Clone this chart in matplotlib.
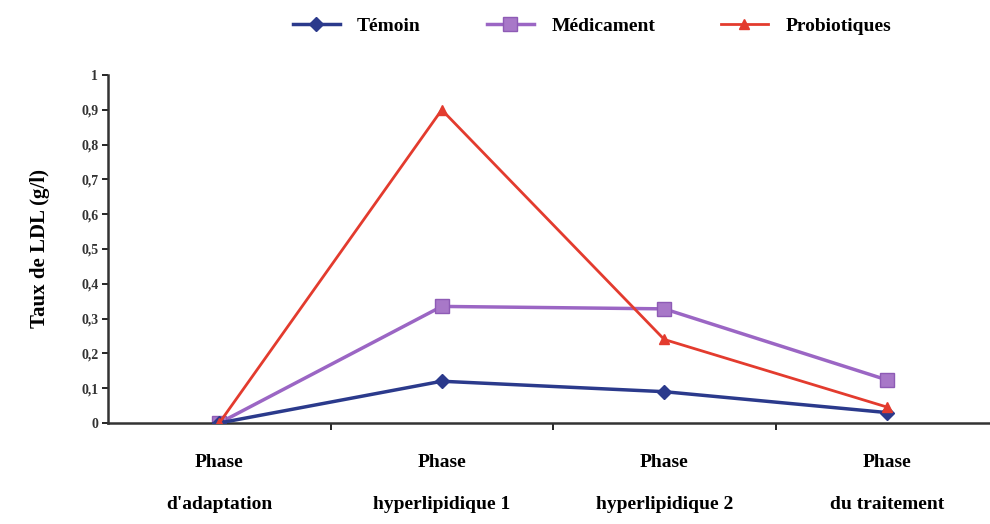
import matplotlib
matplotlib.use("Agg")
import matplotlib.pyplot as plt
import numpy as np

categories = ["Phase\nd'adaptation", "Phase\nhyperlipidique 1", "Phase\nhyperlipidique 2", "Phase\ndu traitement"]
temoin = [0.0, 0.12, 0.09, 0.03]
medicament = [0.0, 0.335, 0.328, 0.124]
probiotiques = [0.0, 0.90, 0.24, 0.046]
yticks = [0, 0.1, 0.2, 0.3, 0.4, 0.5, 0.6, 0.7, 0.8, 0.9, 1]
ytick_labels = ["0", "0,1", "0,2", "0,3", "0,4", "0,5", "0,6", "0,7", "0,8", "0,9", "1"]

plt.rcParams['font.family'] = ['Liberation Serif', 'DejaVu Serif']

fig = plt.figure(figsize=(9.9, 5.24), dpi=100)
ax = fig.add_axes([108/990, 101/524, 890/990, 348/524])
x = np.arange(len(categories))

ax.plot(x, temoin, color='#2B3A8C', lw=2.5, marker='D', ms=7, label='Témoin', zorder=3)
ax.plot(x, medicament, color='#9B66C4', lw=2.5, marker='s', ms=10, mfc='#A878C8', mec='#8E5BB5', label='Médicament', zorder=2)
ax.plot(x, probiotiques, color='#E33B2E', lw=2, marker='^', ms=7, label='Probiotiques', zorder=4)

ax.set_xlim(-0.5, 3.5)
ax.set_ylim(0, 1)
ax.set_yticks(yticks)
ax.set_yticklabels(ytick_labels, fontsize=10, fontweight='bold', color='#333333')
ax.set_xticks([0.5, 1.5, 2.5])
ax.set_xticklabels([])
ax.set_xticks(x, minor=True)
ax.set_xticklabels(categories, minor=True, fontsize=14, fontweight='bold', linespacing=2.95)
ax.tick_params(axis='x', which='minor', length=0, pad=22)
ax.tick_params(axis='x', which='major', length=5, width=1.2, direction='out')
ax.tick_params(axis='y', length=4, width=1.2, direction='out', pad=3)
for s in ['top', 'right']:
    ax.spines[s].set_visible(False)
for s in ['left', 'bottom']:
    ax.spines[s].set_linewidth(1.8)
    ax.spines[s].set_color('#333333')

ax.set_ylabel('Taux de LDL (g/l)', fontsize=15, fontweight='bold', labelpad=22)

fig.legend(loc='upper center', bbox_to_anchor=(0.598, 1.0), ncol=3, frameon=False,
           prop={'size': 14, 'weight': 'bold'}, columnspacing=3.4, handlelength=2.4, handletextpad=0.9)

fig.savefig('out.png', dpi=100)
